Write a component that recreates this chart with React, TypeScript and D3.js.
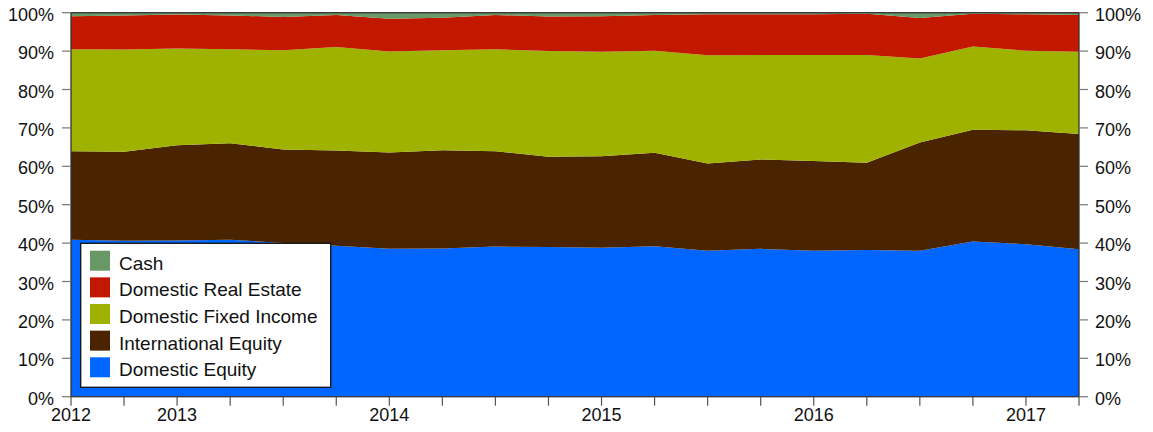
import React from "react";
import * as d3 from "d3";

const seriesNames = ["Domestic Equity", "International Equity", "Domestic Fixed Income", "Domestic Real Estate", "Cash"];
const seriesColors = ["#0066FF", "#4A2400", "#A0B200", "#C21800", "#669966"];

const xTickLabels = ["2012", "", "2013", "", "", "", "2014", "", "", "", "2015", "", "", "", "2016", "", "", "", "2017", ""];

const domesticEquity = [40.9, 40.6, 40.7, 40.9, 40.0, 39.3, 38.5, 38.6, 39.1, 39.0, 38.8, 39.2, 38.0, 38.5, 38.0, 38.2, 38.0, 40.4, 39.7, 38.4];
const internationalEquity = [23.0, 23.2, 24.8, 25.1, 24.4, 24.8, 25.1, 25.6, 24.8, 23.5, 23.8, 24.3, 22.7, 23.3, 23.4, 22.7, 28.2, 29.1, 29.7, 30.0];
const domesticFixedIncome = [26.6, 26.6, 25.2, 24.5, 25.8, 27.0, 26.3, 26.0, 26.6, 27.5, 27.2, 26.6, 28.2, 27.2, 27.6, 28.1, 21.9, 21.7, 20.7, 21.4];
const domesticRealEstate = [8.6, 8.9, 8.8, 8.8, 8.7, 8.3, 8.5, 8.5, 8.9, 9.0, 9.3, 9.3, 10.7, 10.6, 10.6, 10.7, 10.5, 8.5, 9.5, 9.6];
const cash = [0.9, 0.7, 0.5, 0.7, 1.1, 0.6, 1.6, 1.3, 0.6, 1.0, 0.9, 0.6, 0.4, 0.4, 0.4, 0.3, 1.4, 0.3, 0.4, 0.6];

const yTicks = [0, 10, 20, 30, 40, 50, 60, 70, 80, 90, 100];

const W = 1153;
const H = 432;
const left = 71;
const right = 1079;
const top = 12.7;
const bottom = 396.7;

export default function App() {
  const seriesValues = [domesticEquity, internationalEquity, domesticFixedIncome, domesticRealEstate, cash];
  const rows = xTickLabels.map((_, i) => {
    const r: Record<string, number> = { i };
    seriesNames.forEach((n, k) => (r[n] = seriesValues[k][i]));
    return r;
  });
  const stack = d3.stack<Record<string, number>>().keys(seriesNames).offset(d3.stackOffsetExpand);
  const layers = stack(rows);

  const x = d3.scaleLinear().domain([0, xTickLabels.length - 1]).range([left, right]);
  const y = d3.scaleLinear().domain([0, 1]).range([bottom, top]);
  const yp = d3.scaleLinear().domain([0, 100]).range([bottom, top]);

  const area = d3
    .area<d3.SeriesPoint<Record<string, number>>>()
    .x((d) => x(d.data.i))
    .y0((d) => y(d[0]))
    .y1((d) => y(d[1]));

  const font = "Liberation Sans, Arial, Helvetica, sans-serif";
  const legendOrder = [4, 3, 2, 1, 0];

  return (
    <svg width={W} height={H} style={{ position: "absolute", left: 0, top: 0 }} fontFamily={font}>
      <rect x={0} y={0} width={W} height={H} fill="#fff" />
      {layers.map((layer, k) => (
        <path key={k} d={area(layer) || ""} fill={seriesColors[k]} />
      ))}
      <rect x={left} y={top} width={right - left} height={bottom - top} fill="none" stroke="#333" strokeWidth={1.3} />
      {yTicks.map((t) => (
        <g key={t}>
          <line x1={left - 9} x2={left} y1={yp(t)} y2={yp(t)} stroke="#777" strokeWidth={1.2} />
          <line x1={right} x2={right + 9} y1={yp(t)} y2={yp(t)} stroke="#777" strokeWidth={1.2} />
          <text x={left - 17} y={yp(t) + 8} fontSize={18} textAnchor="end" fill="#111">
            {t + "%"}
          </text>
          <text x={right + 16} y={yp(t) + 8} fontSize={18} textAnchor="start" fill="#111">
            {t + "%"}
          </text>
        </g>
      ))}
      {xTickLabels.map((lab, i) => (
        <g key={i}>
          <line x1={x(i)} x2={x(i)} y1={bottom} y2={bottom + 9} stroke="#555" strokeWidth={1.2} />
          {lab && (
            <text x={x(i)} y={bottom + 24} fontSize={18} textAnchor="middle" fill="#111">
              {lab}
            </text>
          )}
        </g>
      ))}
      <g>
        <rect x={80.7} y={243.3} width={250} height={144} fill="#fff" stroke="#111" strokeWidth={1.3} />
        {legendOrder.map((k, j) => (
          <g key={k}>
            <rect x={90} y={250.7 + j * 26.65} width={20} height={20} fill={seriesColors[k]} />
            <text x={119} y={250.7 + j * 26.65 + 19} fontSize={19} fill="#111">
              {seriesNames[k]}
            </text>
          </g>
        ))}
      </g>
    </svg>
  );
}
